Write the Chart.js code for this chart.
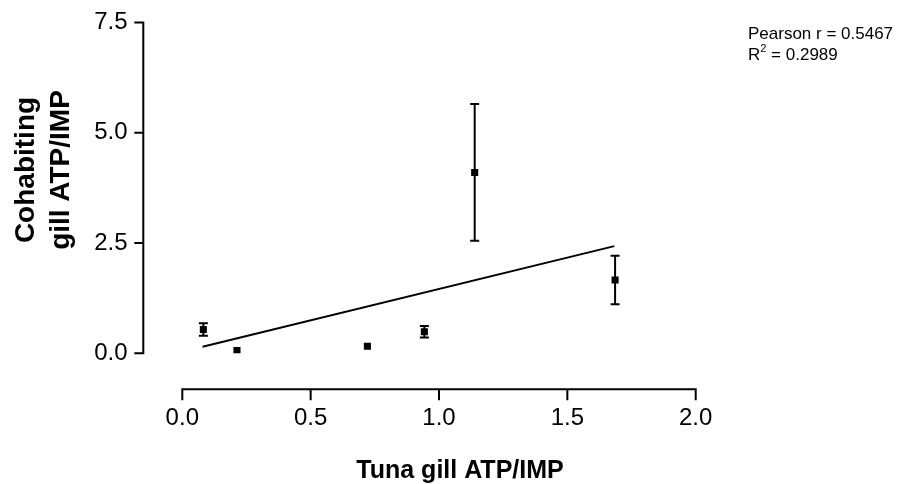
<!DOCTYPE html>
<html>
<head>
<meta charset="utf-8">
<title>Tuna vs cohabiting gill ATP/IMP</title>
<script src="https://cdn.jsdelivr.net/npm/chart.js@4.4.1/dist/chart.umd.min.js"></script>
<style>
  html, body { margin: 0; padding: 0; background: #fff; }
  canvas { display: block; }
</style>
</head>
<body>
<canvas id="scatter-chart" width="899" height="484"></canvas>
<script>
// values
const tunaAtp = [0.082, 0.213, 0.721, 0.943, 1.139, 1.686];
const cohabAtp = [0.54, 0.06, 0.16, 0.49, 4.10, 1.66];
const cohabErr = [0.14, 0, 0, 0.13, 1.55, 0.55];
const fitX = [0.079, 1.683];
const fitY = [0.15, 2.43];
const xTicks = [0, 0.5, 1.0, 1.5, 2.0];
const yTicks = [0, 2.5, 5.0, 7.5];
const xTitle = 'Tuna gill ATP/IMP';
const yTitle = ['Cohabiting', 'gill ATP/IMP'];
const pearsonText = 'Pearson r = 0.5467';
const rSquaredText = ' = 0.2989';

const fontFamily = '"Liberation Sans", Arial, Helvetica, sans-serif';
Chart.defaults.font.family = fontFamily;
Chart.defaults.color = '#000';

// prism style detached axes, error bars and the text block
const prismPlugin = {
  id: 'prism',
  beforeDatasetsDraw(chart) {
    const {ctx, scales: {x, y}} = chart;
    ctx.save();
    ctx.strokeStyle = '#000';
    ctx.lineWidth = 2;
    tunaAtp.forEach((v, i) => {
      if (!cohabErr[i]) return;
      const px = x.getPixelForValue(v);
      const top = y.getPixelForValue(cohabAtp[i] + cohabErr[i]);
      const bot = y.getPixelForValue(cohabAtp[i] - cohabErr[i]);
      ctx.beginPath();
      ctx.moveTo(px, top);
      ctx.lineTo(px, bot);
      ctx.moveTo(px - 4.5, top);
      ctx.lineTo(px + 4.5, top);
      ctx.moveTo(px - 4.5, bot);
      ctx.lineTo(px + 4.5, bot);
      ctx.stroke();
    });
    ctx.restore();
  },
  afterDraw(chart) {
    const {ctx, chartArea, scales: {x, y}} = chart;
    const axisX = chartArea.left - 39;
    const axisY = chartArea.bottom + 36;
    ctx.save();
    ctx.strokeStyle = '#000';
    ctx.lineWidth = 2;
    ctx.lineJoin = 'miter';

    // y axis
    const yTop = y.getPixelForValue(yTicks[yTicks.length - 1]);
    const yBot = y.getPixelForValue(yTicks[0]);
    ctx.beginPath();
    ctx.moveTo(axisX - 9, yTop);
    ctx.lineTo(axisX, yTop);
    ctx.lineTo(axisX, yBot);
    ctx.lineTo(axisX - 9, yBot);
    yTicks.slice(1, -1).forEach(v => {
      const py = y.getPixelForValue(v);
      ctx.moveTo(axisX - 9, py);
      ctx.lineTo(axisX, py);
    });
    ctx.stroke();

    // x axis
    const xLeft = x.getPixelForValue(xTicks[0]);
    const xRight = x.getPixelForValue(xTicks[xTicks.length - 1]);
    ctx.beginPath();
    ctx.moveTo(xLeft, axisY + 11);
    ctx.lineTo(xLeft, axisY);
    ctx.lineTo(xRight, axisY);
    ctx.lineTo(xRight, axisY + 11);
    xTicks.slice(1, -1).forEach(v => {
      const px = x.getPixelForValue(v);
      ctx.moveTo(px, axisY);
      ctx.lineTo(px, axisY + 11);
    });
    ctx.stroke();

    ctx.fillStyle = '#000';
    // axis titles
    ctx.font = 'bold 25px ' + fontFamily;
    ctx.textAlign = 'center';
    ctx.textBaseline = 'alphabetic';
    ctx.fillText(xTitle, 460, 478);

    ctx.font = 'bold 28px ' + fontFamily;
    ctx.textBaseline = 'middle';
    yTitle.forEach((line, i) => {
      ctx.save();
      ctx.translate(26 + i * 35, 170);
      ctx.rotate(-Math.PI / 2);
      ctx.fillText(line, 0, 0);
      ctx.restore();
    });

    // stats
    ctx.textAlign = 'left';
    ctx.textBaseline = 'alphabetic';
    ctx.font = '17px ' + fontFamily;
    ctx.fillText(pearsonText, 748, 38.5);
    ctx.fillText('R', 748, 60);
    let w = ctx.measureText('R').width;
    ctx.font = '11px ' + fontFamily;
    ctx.fillText('2', 748 + w, 52);
    w += ctx.measureText('2').width;
    ctx.font = '17px ' + fontFamily;
    ctx.fillText(rSquaredText, 748 + w, 60);
    ctx.restore();
  }
};

const points = tunaAtp.map((v, i) => ({x: v, y: cohabAtp[i]}));
const fitLine = fitX.map((v, i) => ({x: v, y: fitY[i]}));

new Chart(document.getElementById('scatter-chart'), {
  type: 'scatter',
  data: {
    datasets: [{
      label: 'Gill ATP/IMP',
      data: points,
      pointStyle: 'rect',
      pointRadius: 5,
      backgroundColor: '#000',
      borderWidth: 0
    }, {
      type: 'line',
      label: 'Linear fit',
      data: fitLine,
      borderColor: '#000',
      borderWidth: 2,
      pointRadius: 0,
      fill: false
    }]
  },
  options: {
    responsive: false,
    animation: false,
    devicePixelRatio: 1,
    layout: {
      padding: {left: 0, right: 203.3, top: 22.5, bottom: 0}
    },
    plugins: {
      legend: {display: false},
      tooltip: {enabled: false}
    },
    scales: {
      x: {
        type: 'linear',
        min: 0,
        max: 2,
        grid: {display: false, drawTicks: false},
        border: {display: false},
        afterBuildTicks: scale => { scale.ticks = xTicks.map(v => ({value: v})); },
        afterFit: scale => { scale.height = 130.7; },
        ticks: {
          font: {size: 24},
          padding: 50.3,
          maxRotation: 0,
          autoSkip: false,
          callback: v => Number(v).toFixed(1)
        }
      },
      y: {
        type: 'linear',
        min: 0,
        max: 7.5,
        grid: {display: false, drawTicks: false},
        border: {display: false},
        afterBuildTicks: scale => { scale.ticks = yTicks.map(v => ({value: v})); },
        afterFit: scale => {
          scale.width = 182.3;
          // tick padding also pads top/bottom, which would squash the axis
          scale.paddingTop = 0;
          scale.paddingBottom = 0;
        },
        ticks: {
          font: {size: 24},
          padding: 54.8,
          autoSkip: false,
          callback: v => Number(v).toFixed(1)
        }
      }
    }
  },
  plugins: [prismPlugin]
});
</script>
</body>
</html>
